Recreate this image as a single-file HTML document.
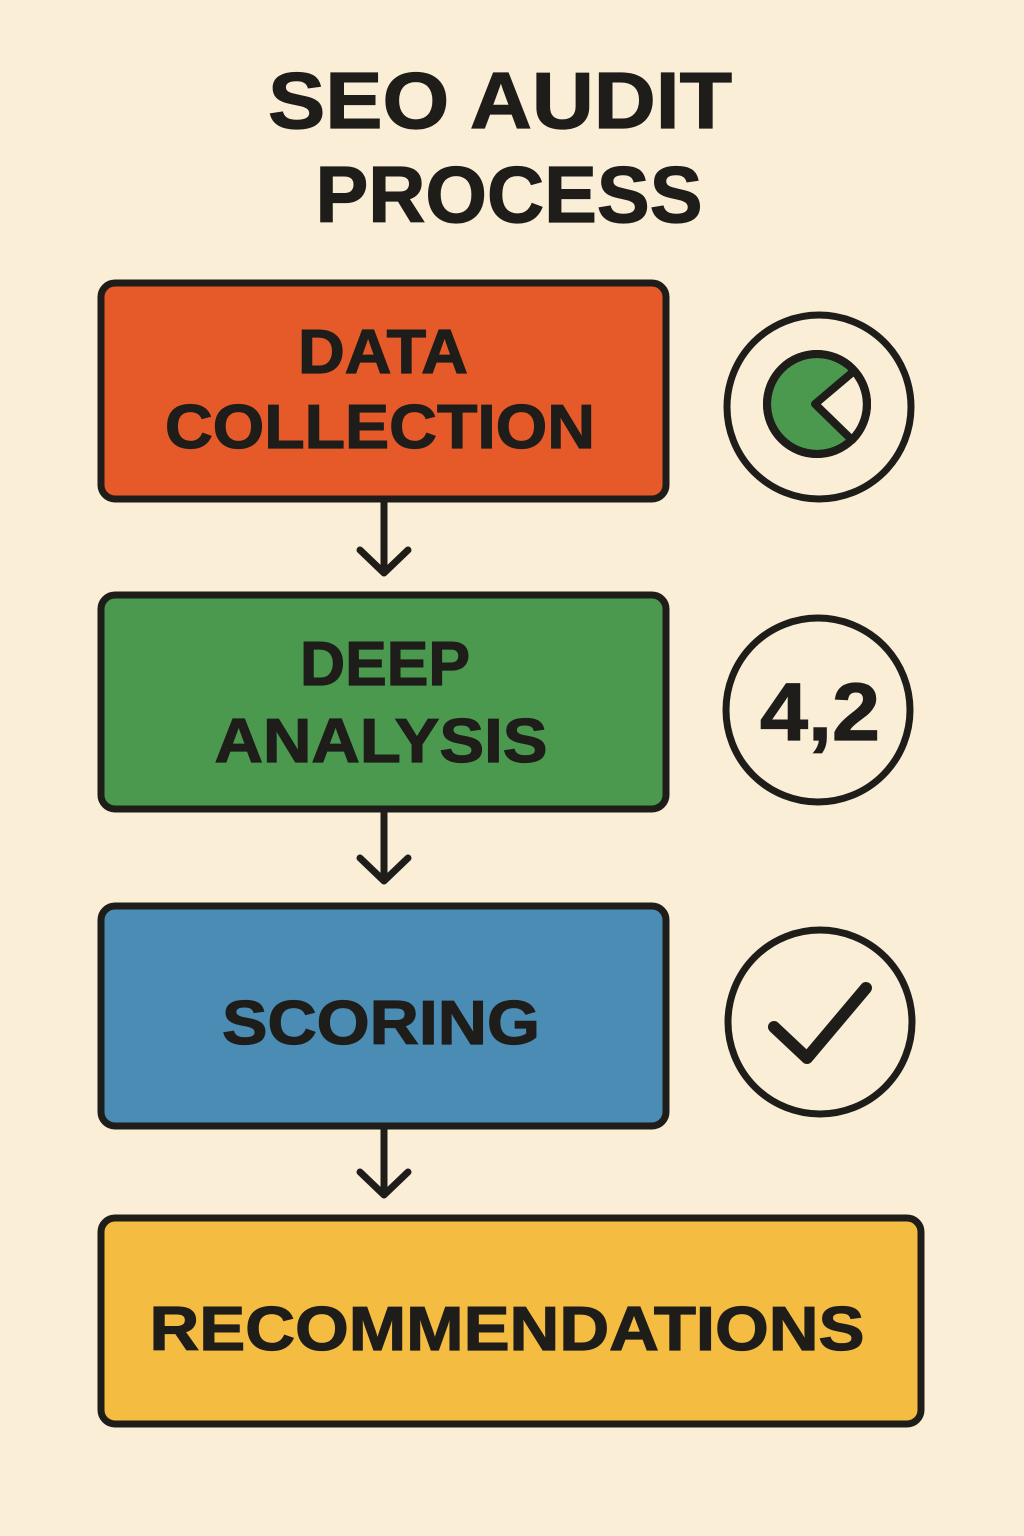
<!DOCTYPE html>
<html><head><style>
html,body{margin:0;padding:0;background:#fbeed7;}
svg{display:block;}
text{font-family:"Liberation Sans",sans-serif;font-weight:bold;fill:#1f1d1a;text-anchor:middle;stroke:#1f1d1a;stroke-width:1.2;}
</style></head><body>
<svg width="1024" height="1536" viewBox="0 0 1024 1536" xmlns="http://www.w3.org/2000/svg">
<rect width="1024" height="1536" fill="#fbeed7"/>
<text x="500" y="128" font-size="80" textLength="464" lengthAdjust="spacingAndGlyphs">SEO AUDIT</text>
<text x="509" y="222" font-size="80" textLength="387" lengthAdjust="spacingAndGlyphs">PROCESS</text>
<g stroke="#1f1d1a" stroke-width="7" stroke-linecap="round" stroke-linejoin="round">
<rect x="101" y="283" width="565" height="216" rx="14" fill="#e65a2a"/>
<rect x="101" y="595" width="565" height="214" rx="14" fill="#4b994f"/>
<rect x="101" y="906" width="565" height="220" rx="14" fill="#4a8cb3"/>
<rect x="101" y="1218" width="820" height="206" rx="14" fill="#f4bd41"/>
<g fill="none">
<path d="M384 502 V573 M360 550 L384 573 L408 550"/>
<path d="M384 812 V881 M360 858 L384 881 L408 858"/>
<path d="M384 1129 V1195 M360 1172 L384 1195 L408 1172"/>
<circle cx="819" cy="407" r="92"/>
<circle cx="818" cy="710" r="92"/>
<circle cx="820" cy="1022" r="92"/>
<path d="M774 1027 L807 1058 L866 988" stroke-width="12"/>
</g>
<circle cx="817" cy="404" r="50" fill="#4b994f" stroke-width="8"/>
<path d="M815 404 L854 371 A50 50 0 0 1 852 440 Z" fill="#fbeed7" stroke-width="8"/>
<circle cx="817" cy="404" r="50" fill="none" stroke-width="8"/>
</g>
<text x="383" y="373" font-size="62" textLength="170" lengthAdjust="spacingAndGlyphs">DATA</text>
<text x="380" y="448" font-size="62" textLength="430" lengthAdjust="spacingAndGlyphs">COLLECTION</text>
<text x="385" y="685" font-size="62" textLength="170" lengthAdjust="spacingAndGlyphs">DEEP</text>
<text x="381" y="762" font-size="62" textLength="333" lengthAdjust="spacingAndGlyphs">ANALYSIS</text>
<text x="381" y="1044" font-size="62" textLength="318" lengthAdjust="spacingAndGlyphs">SCORING</text>
<text x="507" y="1350" font-size="62" textLength="715" lengthAdjust="spacingAndGlyphs">RECOMMENDATIONS</text>
<text x="820" y="740" font-size="82" textLength="120" lengthAdjust="spacingAndGlyphs">4,2</text>
</svg>
</body></html>
